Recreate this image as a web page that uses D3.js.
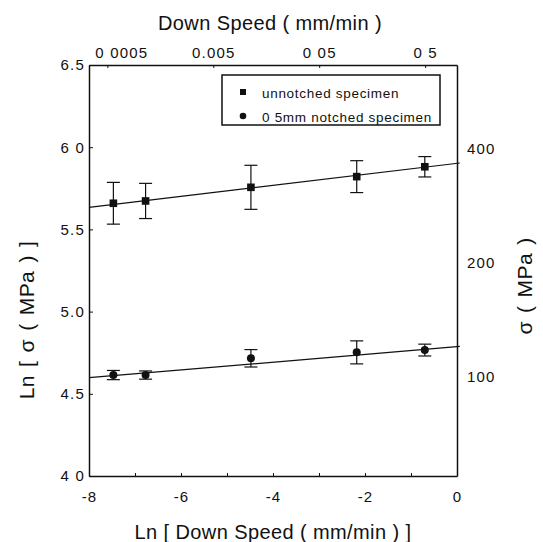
<!DOCTYPE html>
<html lang="en">

<head>
	<meta charset="utf-8">
	<title>Ln sigma vs Ln down speed</title>
	<script src="https://d3js.org/d3.v7.min.js"></script>
	<style type="text/css">
		body {
			margin: 0;
			background: #fff;
		}

		svg text {
			font-family: "Liberation Sans", Arial, sans-serif;
			fill: #111;
		}

		.axis path,
		.axis line {
			fill: none;
			stroke: #111;
		}

		.axis path {
			stroke-width: 1.5;
		}

		.axis text {
			font-size: 15px;
			letter-spacing: 1.2px;
		}
	</style>
</head>

<body>

	<script type="text/javascript">

		//Data
		var lnSpeed = [-7.47, -6.77, -4.48, -2.18, -0.70];
		var unnotched = [5.659, 5.673, 5.756, 5.821, 5.881];
		var unnotchedErr = [0.127, 0.107, 0.134, 0.097, 0.062];
		var notched = [4.614, 4.614, 4.716, 4.752, 4.766];
		var notchedErr = [0.028, 0.025, 0.053, 0.070, 0.036];

		//Fitted lines (end points)
		var fitX = [-8, 0.06];
		var fitUnnotched = [5.634, 5.904];
		var fitNotched = [4.598, 4.788];

		//Ticks
		var xTicks = [-8, -7, -6, -5, -4, -3, -2, -1, 0];
		var xTickLabels = ["-8", "", "-6", "", "-4", "", "-2", "", "0"];
		var yTicks = [4.0, 4.5, 5.0, 5.5, 6.0, 6.5];
		var yTickLabels = ["4 0", "4.5", "5.0", "5.5", "6 0", "6.5"];
		var speedTicks = [0.0005, 0.005, 0.05, 0.5];
		var speedTickLabels = ["0 0005", "0.005", "0 05", "0 5"];
		var sigmaTicks = [100, 200, 400];
		var sigmaTickLabels = ["100", "200", "400"];

		var legendLabels = ["unnotched specimen", "0 5mm notched specimen"];

		//Width and height
		var w = 543;
		var h = 542;
		var plotL = 89, plotR = 457, plotT = 65, plotB = 476;

		//Scales
		var xScale = d3.scaleLinear()
			.domain([-8, 0])
			.range([plotL, plotR]);

		var yScale = d3.scaleLinear()
			.domain([4, 6.5])
			.range([plotB, plotT]);

		var speedScale = d3.scaleLog()
			.domain([Math.exp(-8), 1])
			.range([plotL, plotR]);

		var sigmaScale = d3.scaleLog()
			.domain([Math.exp(4), Math.exp(6.5)])
			.range([plotB, plotT]);

		//SVG
		var svg = d3.select("body")
			.append("svg")
			.attr("width", w)
			.attr("height", h);

		svg.append("rect")
			.attr("width", w)
			.attr("height", h)
			.attr("fill", "#fff");

		//Axes
		var xAxis = d3.axisBottom(xScale)
			.tickValues(xTicks)
			.tickFormat(function (d, i) { return xTickLabels[i]; })
			.tickSizeInner(-3)
			.tickSizeOuter(0)
			.tickPadding(15);

		var yAxis = d3.axisLeft(yScale)
			.tickValues(yTicks)
			.tickFormat(function (d, i) { return yTickLabels[i]; })
			.tickSizeInner(-4)
			.tickSizeOuter(0)
			.tickPadding(4);

		var topAxis = d3.axisTop(speedScale)
			.tickValues(speedTicks)
			.tickFormat(function (d, i) { return speedTickLabels[i]; })
			.tickSizeInner(-3)
			.tickSizeOuter(0)
			.tickPadding(7);

		var rightAxis = d3.axisRight(sigmaScale)
			.tickValues(sigmaTicks)
			.tickFormat(function (d, i) { return sigmaTickLabels[i]; })
			.tickSizeInner(0)
			.tickSizeOuter(0)
			.tickPadding(10);

		svg.append("g")
			.attr("class", "axis")
			.attr("transform", "translate(0," + plotB + ")")
			.call(xAxis);

		svg.append("g")
			.attr("class", "axis")
			.attr("transform", "translate(" + plotL + ",0)")
			.call(yAxis);

		var gTop = svg.append("g")
			.attr("class", "axis")
			.attr("transform", "translate(0," + plotT + ")")
			.call(topAxis);
		//first top label is pushed right in the original
		gTop.selectAll(".tick text")
			.filter(function (d, i) { return i === 0; })
			.attr("dx", 14);

		svg.append("g")
			.attr("class", "axis")
			.attr("transform", "translate(" + plotR + ",0)")
			.call(rightAxis);

		//Axis titles
		svg.append("text")
			.attr("x", (plotL + plotR) / 2)
			.attr("y", 539)
			.attr("text-anchor", "middle")
			.attr("font-size", "20px")
			.style("letter-spacing", "0.4px")
			.text("Ln [ Down Speed ( mm/min ) ]");

		svg.append("text")
			.attr("x", 270)
			.attr("y", 30)
			.attr("text-anchor", "middle")
			.attr("font-size", "20px")
			.style("letter-spacing", "0.4px")
			.text("Down Speed ( mm/min )");

		svg.append("text")
			.attr("transform", "translate(34,320) rotate(-90)")
			.attr("text-anchor", "middle")
			.attr("font-size", "21px")
			.style("letter-spacing", "0.4px")
			.style("word-spacing", "2px")
			.text("Ln [ σ ( MPa ) ]");

		svg.append("text")
			.attr("transform", "translate(532,286) rotate(-90)")
			.attr("text-anchor", "middle")
			.attr("font-size", "21px")
			.style("letter-spacing", "0.4px")
			.style("word-spacing", "2px")
			.text("σ ( MPa )");

		//Fit lines
		var fitLine = d3.line()
			.x(function (d) { return xScale(d[0]); })
			.y(function (d) { return yScale(d[1]); });

		[fitUnnotched, fitNotched].forEach(function (f) {
			svg.append("path")
				.attr("d", fitLine(fitX.map(function (x, i) { return [x, f[i]]; })))
				.attr("fill", "none")
				.attr("stroke", "#111")
				.attr("stroke-width", 1.2);
		});

		//Error bars
		function errorBars(vals, errs) {
			var g = svg.append("g")
				.attr("stroke", "#111")
				.attr("stroke-width", 1.2);
			lnSpeed.forEach(function (x, i) {
				var cx = xScale(x);
				var y0 = yScale(vals[i] - errs[i]);
				var y1 = yScale(vals[i] + errs[i]);
				g.append("line").attr("x1", cx).attr("x2", cx).attr("y1", y0).attr("y2", y1);
				g.append("line").attr("x1", cx - 6.5).attr("x2", cx + 6.5).attr("y1", y0).attr("y2", y0);
				g.append("line").attr("x1", cx - 6.5).attr("x2", cx + 6.5).attr("y1", y1).attr("y2", y1);
			});
		}
		errorBars(unnotched, unnotchedErr);
		errorBars(notched, notchedErr);

		//Markers
		svg.selectAll("rect.sq")
			.data(unnotched)
			.enter()
			.append("rect")
			.attr("class", "sq")
			.attr("x", function (d, i) { return xScale(lnSpeed[i]) - 3.8; })
			.attr("y", function (d) { return yScale(d) - 3.8; })
			.attr("width", 7.6)
			.attr("height", 7.6)
			.attr("fill", "#111");

		svg.selectAll("circle.pt")
			.data(notched)
			.enter()
			.append("circle")
			.attr("class", "pt")
			.attr("cx", function (d, i) { return xScale(lnSpeed[i]); })
			.attr("cy", function (d) { return yScale(d); })
			.attr("r", 4)
			.attr("fill", "#111");

		//Legend
		var lg = svg.append("g");
		lg.append("rect")
			.attr("x", 222)
			.attr("y", 75)
			.attr("width", 218)
			.attr("height", 50)
			.attr("fill", "#fff")
			.attr("stroke", "#111")
			.attr("stroke-width", 1.5);
		lg.append("rect")
			.attr("x", 240)
			.attr("y", 89)
			.attr("width", 6)
			.attr("height", 6)
			.attr("fill", "#111");
		lg.append("circle")
			.attr("cx", 243)
			.attr("cy", 116)
			.attr("r", 3.3)
			.attr("fill", "#111");
		lg.selectAll("text")
			.data(legendLabels)
			.enter()
			.append("text")
			.attr("x", 262)
			.attr("y", function (d, i) { return 98 + i * 24; })
			.attr("font-size", "13.5px")
			.style("letter-spacing", "0.7px")
			.text(function (d) { return d; });

	</script>
</body>

</html>
